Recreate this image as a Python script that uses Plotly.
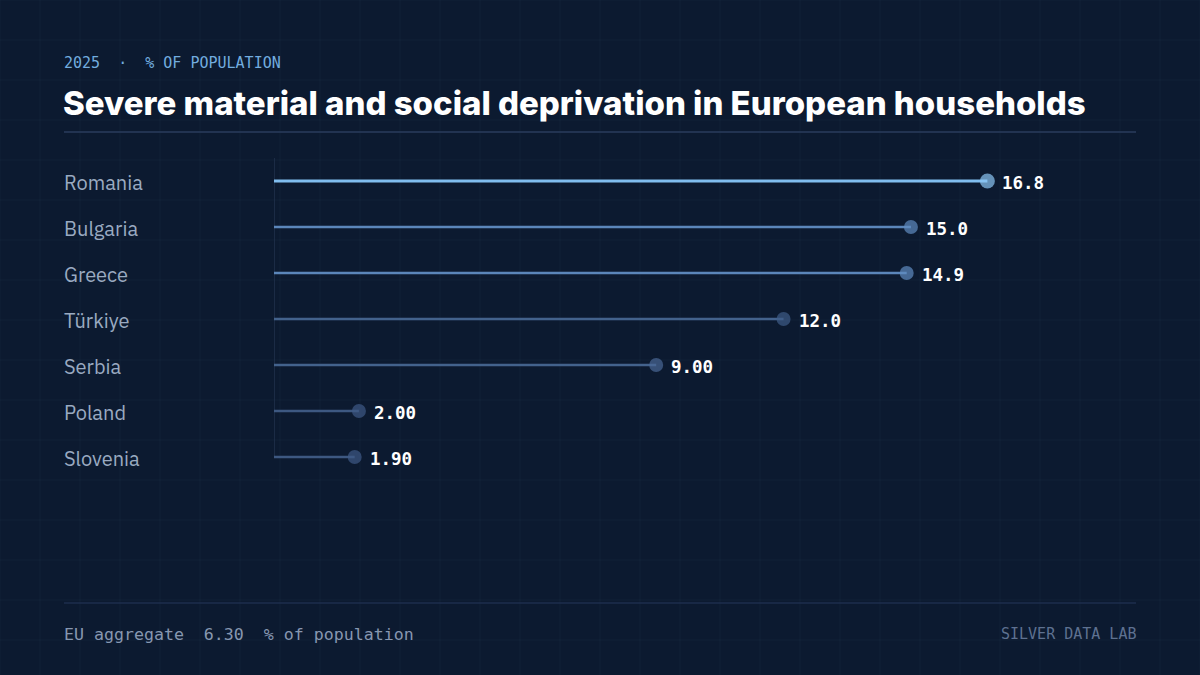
import plotly.graph_objects as go

countries = ["Romania", "Bulgaria", "Greece", "Türkiye", "Serbia", "Poland", "Slovenia"]
values = [16.8, 15.0, 14.9, 12.0, 9.0, 2.0, 1.9]
value_labels = ["16.8", "15.0", "14.9", "12.0", "9.00", "2.00", "1.90"]
eu_aggregate = "6.30"

line_colors = ["#80bdee", "#5b86ba", "#5b86ba", "#43628c", "#43628c", "#3d5881", "#3d5881"]
dot_colors = ["#8cc6f4", "#5f8bc0", "#5f8bc0", "#3f5d87", "#4a6896", "#3e5a86", "#3e5a86"]
line_widths = [3, 2.5, 2.5, 2.5, 2.5, 2.5, 2.5]
dot_sizes = [15, 14, 14, 14, 14, 14, 14]

W, H = 1200, 675
L, R, T, B = 274, 64, 158, 195
PW, PH = W - L - R, H - T - B

def px(p):
    return (p - L) / PW

def py(q):
    return 1 - (q - T) / PH

BG = "#0c1a30"
fig = go.Figure()

ys = list(range(len(countries)))
for i, (c, v) in enumerate(zip(countries, values)):
    fig.add_trace(go.Scatter(x=[0, v], y=[i, i], mode="lines",
                             line=dict(color=line_colors[i], width=line_widths[i]),
                             hoverinfo="skip", showlegend=False))
fig.add_trace(go.Scatter(x=values, y=ys, mode="markers",
                         marker=dict(color=dot_colors, size=dot_sizes, line=dict(width=0)),
                         showlegend=False, hovertemplate="%{x}<extra></extra>"))

base = dict(showarrow=False, borderpad=0, borderwidth=0)
ann = []
for i, (c, v, lab) in enumerate(zip(countries, values, value_labels)):
    ann.append(dict(base, x=px(64), xref="paper", y=i, yref="y", text=c,
                    xanchor="left", yanchor="middle", yshift=-1,
                    font=dict(family="IBM Plex Sans, Inter, Roboto, sans-serif", size=20, color="#9aaac1")))
    ann.append(dict(base, x=v, xref="x", y=i, yref="y", text="<b>" + lab + "</b>",
                    xanchor="left", yanchor="middle", xshift=15, yshift=-2,
                    font=dict(family="DejaVu Sans Mono, monospace", size=17.5, color="#ffffff")))

nb = "\u00a0"
ann.append(dict(base, x=px(64), xref="paper", y=py(63), yref="paper",
                text="2025" + nb * 2 + "·" + nb * 2 + "% OF POPULATION",
                xanchor="left", yanchor="middle",
                font=dict(family="DejaVu Sans Mono, monospace", size=15, color="#72acdf")))
ann.append(dict(base, x=px(63), xref="paper", y=py(103), yref="paper",
                text="Severe material and social deprivation in European households",
                xanchor="left", yanchor="middle",
                font=dict(family="Inter, sans-serif", size=33, color="#ffffff", weight=800)))
ann.append(dict(base, x=px(64), xref="paper", y=py(634), yref="paper",
                text="EU aggregate" + nb * 2 + eu_aggregate + nb * 2 + "% of population",
                xanchor="left", yanchor="middle",
                font=dict(family="DejaVu Sans Mono, monospace", size=16.6, color="#8797b0")))
ann.append(dict(base, x=px(1136), xref="paper", y=py(634), yref="paper",
                text="SILVER DATA LAB",
                xanchor="right", yanchor="middle",
                font=dict(family="DejaVu Sans Mono, monospace", size=15, color="#5e7190")))

# background grid path
segs = []
for gx in range(0, W + 1, 40):
    segs.append(f"M{px(gx)},{py(0)} L{px(gx)},{py(H)}")
for gy in range(0, H + 1, 40):
    segs.append(f"M{px(0)},{py(gy)} L{px(W)},{py(gy)}")
shapes = [
    dict(type="path", xref="paper", yref="paper", path=" ".join(segs),
         line=dict(color="rgba(130,160,210,0.05)", width=1), layer="below"),
    dict(type="line", xref="paper", yref="paper", x0=px(64), x1=px(1136), y0=py(132), y1=py(132),
         line=dict(color="#2a3d5d", width=1.5)),
    dict(type="line", xref="paper", yref="paper", x0=px(64), x1=px(1136), y0=py(603), y1=py(603),
         line=dict(color="#25375a", width=1)),
    dict(type="line", xref="x", yref="y", x0=0, x1=0, y0=-0.5, y1=len(countries) - 1,
         line=dict(color="#2b3d5a", width=1), layer="below"),
]

fig.update_layout(
    width=W, height=H,
    margin=dict(l=L, r=R, t=T, b=B),
    paper_bgcolor=BG, plot_bgcolor="rgba(0,0,0,0)",
    xaxis=dict(range=[0, 20.3], visible=False, fixedrange=True),
    yaxis=dict(range=[len(countries) - 0.5, -0.5], visible=False, fixedrange=True),
    annotations=ann, shapes=shapes, showlegend=False,
)

fig.write_html("out.html")
